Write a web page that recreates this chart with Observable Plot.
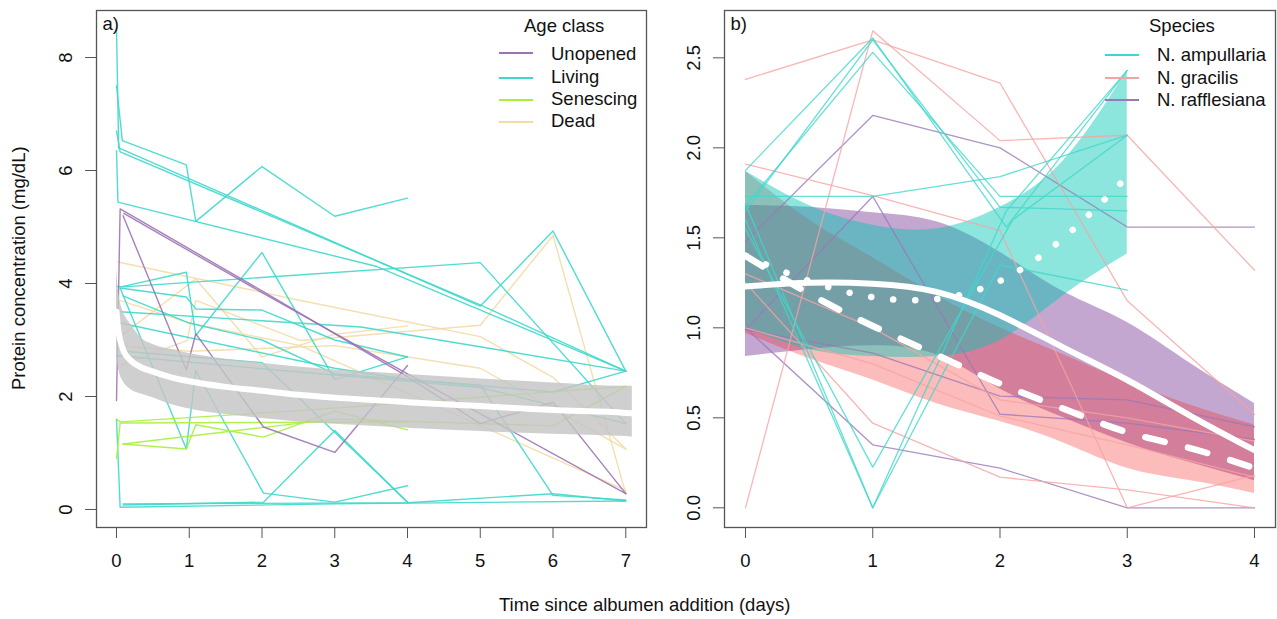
<!DOCTYPE html>
<html><head><meta charset="utf-8">
<script src="https://cdn.jsdelivr.net/npm/d3@7"></script>
<script src="https://cdn.jsdelivr.net/npm/@observablehq/plot@0.6"></script>
<style>
html,body{margin:0;padding:0;background:#fff;}
#fig{position:relative;width:1277px;height:619px;overflow:hidden;font-family:"Liberation Sans",Arial,sans-serif;color:#111;}
.abs{position:absolute;white-space:nowrap;font-size:18.5px;line-height:18.5px;}
.key{position:absolute;height:2px;}
.panel{position:absolute;top:0;}
</style></head><body><div id="fig"></div>
<script>
// ---------- Panel a data (time in days, protein mg/dL) ----------
const ageClasses = ["Unopened", "Living", "Senescing", "Dead"];
const ageColors = ["#9b73b4", "#3ed8cb", "#a8f03c", "#f2dca6"];

const unopenedLines = [
  [[0,1.93],[0.05,5.32],[2.0,3.87],[4.0,2.35],[5.0,1.52],[6.0,1.9],[7.0,0.28]],
  [[0.09,5.2],[0.96,2.47],[1.09,3.11],[2.02,1.46],[3.0,1.01],[4.0,2.55]],
  [[0.1,5.24],[2.0,3.84],[4.0,2.4],[7.0,0.28]]
];
const livingLines = [
  [[0,8.5],[0.03,6.4],[5.0,3.6],[6.0,4.93],[7.0,2.45]],
  [[0,7.5],[0.08,6.53],[0.96,6.1],[1.09,5.1],[2.0,6.07],[3.0,5.19],[4.0,5.51]],
  [[0,6.7],[0.05,6.33],[5.0,3.62],[7.0,2.45]],
  [[0,6.35],[0.02,5.44],[3.58,4.3],[7.0,2.45]],
  [[0,3.95],[0.09,3.94],[5.0,4.37],[7.0,1.52]],
  [[0.09,3.95],[0.96,4.2],[1.09,3.08],[2.0,4.55],[3.0,2.3],[4.0,2.7]],
  [[0.05,3.92],[0.96,3.76],[1.09,3.55],[2.0,3.53],[3.0,3.0],[4.0,2.7]],
  [[0.09,3.78],[1.0,3.3],[2.0,3.0],[3.0,2.4],[5.0,2.2],[6.0,0.25],[7.0,0.17]],
  [[0,1.6],[0.05,0.04],[3.0,0.1],[7.0,0.15]],
  [[0.09,0.08],[2.02,0.13],[3.0,1.4],[4.0,0.13]],
  [[0.09,0.1],[4.0,0.12],[6.0,0.28],[7.0,0.15]],
  [[0.05,3.92],[0.96,1.07],[1.09,2.46],[2.02,0.29],[3.0,0.13],[4.0,0.42]],
  [[0,2.72],[0.03,2.72],[2.8,2.4],[5.0,2.16],[7.0,1.52]],
  [[0.05,3.5],[3.36,3.23],[7.0,2.45]],
  [[0.05,3.3],[3.0,2.5],[4.0,2.3],[6.0,2.08],[7.0,2.45]],
  [[0.1,2.8],[2.0,2.6],[4.0,0.13]]
];
const senescingLines = [
  [[0,0.9],[0.05,1.53],[4.0,1.55]],
  [[0.09,1.16],[0.96,1.07],[1.09,1.5],[2.02,1.28],[3.0,1.74],[4.0,1.41]],
  [[0.09,1.16],[2.0,1.45],[3.0,1.6],[6.0,1.48],[7.0,2.18]],
  [[0,1.6],[0.05,1.55],[2.53,1.75],[7.0,2.18]]
];
const deadLines = [
  [[0.02,4.38],[2.53,3.7],[5.0,3.06],[6.0,2.34],[7.0,1.07]],
  [[0.05,2.55],[0.97,2.99],[1.09,3.7],[2.53,2.99],[5.0,3.26],[6.0,4.85],[7.0,0.28]],
  [[0.09,3.1],[1.09,4.08],[2.0,2.7],[3.0,3.1],[4.0,3.25]],
  [[0.05,3.7],[1.0,3.3],[2.53,2.9],[7.0,0.34]],
  [[0,2.9],[1.0,2.8],[3.0,2.9],[5.0,2.5],[7.0,1.07]]
];
// fitted curve and band (panel a)
const fitA_t   = [0, 0.02, 0.05, 0.1, 0.2, 0.35, 0.5, 0.75, 1, 1.5, 2, 2.5, 3, 4, 5, 6, 7, 7.09];
const fitA_mid = [3.50, 3.22, 3.00, 2.80, 2.63, 2.51, 2.44, 2.34, 2.27, 2.17, 2.10, 2.03, 1.98, 1.90, 1.83, 1.76, 1.71, 1.70];
const fitA_lo  = [2.75, 2.55, 2.38, 2.25, 2.12, 2.04, 1.98, 1.86, 1.78, 1.68, 1.61, 1.55, 1.51, 1.44, 1.38, 1.33, 1.29, 1.28];
const fitA_hi  = [4.28, 3.95, 3.68, 3.48, 3.27, 3.02, 2.92, 2.83, 2.76, 2.66, 2.59, 2.52, 2.47, 2.39, 2.31, 2.24, 2.18, 2.18];
const ticksAx = [0,1,2,3,4,5,6,7];
const ticksAy = [0,2,4,6,8];

// ---------- Panel b data ----------
const species = ["N. ampullaria", "N. gracilis", "N. rafflesiana"];
const speciesLineColors = ["#3ed8cb", "#f7a3a3", "#9a78b6"];
const ampullariaLines = [
  [[0,1.73],[1,1.73],[2,1.84],[3,2.07]],
  [[0,1.875],[1,2.61],[2.05,1.56],[3,2.43]],
  [[0,1.68],[1,2.53],[2,1.73],[3,1.73]],
  [[0,1.65],[1,2.6],[2,1.67],[3,1.65]],
  [[0,1.69],[1,0.0],[2,1.35],[3,1.21]],
  [[0,1.55],[1,0.226],[2.1,1.6],[3,2.07]],
  [[0,1.6],[1,0.0],[2.05,1.65],[3,2.43]]
];
const gracilisLines = [
  [[0,2.38],[1,2.6],[2,2.36],[3,1.15],[4,0.52]],
  [[0,1.91],[1,1.735],[2,1.54],[3,0.0],[4,0.18]],
  [[0,0.0],[1,2.65],[2,2.04],[3,2.07],[4,1.32]],
  [[0,1.25],[1,0.47],[2,0.17],[3,0.1],[4,0.0]],
  [[0,1.0],[1,0.8],[2,0.51],[3,0.35],[4,0.17]],
  [[0,1.3],[1,1.0],[2,0.6],[3,0.5],[4,0.37]]
];
const rafflesianaLines = [
  [[0,1.48],[1,2.18],[2,2.0],[3,1.56],[4,1.56]],
  [[0,0.99],[1,1.73],[2,0.52],[3,0.47],[4,0.38]],
  [[0,1.0],[1,0.35],[2,0.22],[3,0.0],[4,0.0]],
  [[0,0.99],[1,0.86],[2,0.62],[3,0.6],[4,0.45]]
];
// fitted curves and bands (panel b)
const ampT   = [0, 0.5, 1.0, 1.5, 2.0, 2.5, 3.0];
const ampMid = [1.40, 1.26, 1.17, 1.16, 1.26, 1.50, 1.84];
const ampLo  = [1.00, 0.88, 0.84, 0.84, 0.93, 1.18, 1.41];
const ampHi  = [1.87, 1.68, 1.57, 1.55, 1.67, 1.93, 2.43];
const graT   = [0, 0.5, 1.0, 1.5, 2.0, 2.5, 3.0, 3.5, 4.0];
const graMid = [1.40, 1.19, 1.01, 0.85, 0.69, 0.55, 0.42, 0.33, 0.22];
const graLo  = [0.97, 0.83, 0.71, 0.58, 0.48, 0.36, 0.22, 0.15, 0.08];
const graHi  = [1.87, 1.60, 1.39, 1.18, 1.00, 0.85, 0.70, 0.57, 0.46];
const rafT   = [0, 0.5, 1.0, 1.5, 2.0, 2.5, 3.0, 3.5, 4.0];
const rafMid = [1.23, 1.25, 1.245, 1.20, 1.07, 0.89, 0.71, 0.51, 0.32];
const rafLo  = [0.84, 0.88, 0.90, 0.85, 0.66, 0.50, 0.36, 0.25, 0.15];
const rafHi  = [1.68, 1.67, 1.64, 1.59, 1.42, 1.20, 1.03, 0.80, 0.58];
const ticksBx = [0,1,2,3,4];
const ticksBy = [0,0.5,1,1.5,2,2.5];

// ---------- helpers ----------
const flat = (lines, key) => lines.flatMap((pts, i) => pts.map(([t, v]) => ({id: key + i, t, v})));
const band = (T, mid, lo, hi) => T.map((t, i) => ({t, mid: mid[i], lo: lo[i], hi: hi[i]}));
const FONT = '"Liberation Sans", Arial, sans-serif';
const fig = document.getElementById("fig");
const axisStyle = {stroke: "#555", tickSize: 11, label: null};
const intFmt = d3.format("d");

// ---------- Panel a ----------
const lineA = (lines, key, color) => Plot.line(flat(lines, key), {x: "t", y: "v", z: "id", stroke: color, strokeWidth: 1.4, strokeOpacity: 0.9});
const fitA = band(fitA_t, fitA_mid, fitA_lo, fitA_hi);
const plotA = Plot.plot({
  width: 660, height: 580,
  marginLeft: 96, marginRight: 14, marginTop: 10, marginBottom: 53,
  x: {domain: [-0.275, 7.285]},
  y: {domain: [-0.3186, 8.832]},
  style: {fontFamily: FONT, fontSize: "18.5px", color: "#111", background: "transparent"},
  marks: [
    lineA(deadLines, "d", ageColors[3]),
    lineA(livingLines, "l", ageColors[1]),
    lineA(senescingLines, "s", ageColors[2]),
    lineA(unopenedLines, "u", ageColors[0]),
    Plot.areaY(fitA, {x: "t", y1: "lo", y2: "hi", fill: "#c4c4c4", fillOpacity: 0.82, curve: "monotone-x"}),
    Plot.line(fitA, {x: "t", y: "mid", stroke: "white", strokeWidth: 6, curve: "monotone-x"}),
    Plot.frame({stroke: "#555", strokeWidth: 1.3}),
    Plot.axisX({...axisStyle, ticks: ticksAx, tickFormat: intFmt, tickPadding: 15}),
    Plot.axisY({...axisStyle, ticks: ticksAy, tickFormat: intFmt, tickRotate: -90, tickPadding: 14}),
    Plot.text(["a)"], {frameAnchor: "top-left", dx: 6, dy: 6, lineAnchor: "top", text: d => d, fontSize: 18.5})
  ]
});
plotA.classList.add("panel");
plotA.style.left = "0px";
fig.appendChild(plotA);

// ---------- Panel b ----------
const lineB = (lines, key, color, op) => Plot.line(flat(lines, key), {x: "t", y: "v", z: "id", stroke: color, strokeWidth: 1.3, strokeOpacity: op});
const bAmp = band(ampT, ampMid, ampLo, ampHi);
const bGra = band(graT, graMid, graLo, graHi);
const bRaf = band(rafT, rafMid, rafLo, rafHi);
const plotB = Plot.plot({
  width: 617, height: 580,
  marginLeft: 64, marginRight: 2, marginTop: 10, marginBottom: 53,
  x: {domain: [-0.165, 4.165]},
  y: {domain: [-0.1094, 2.763]},
  style: {fontFamily: FONT, fontSize: "18.5px", color: "#111", background: "transparent"},
  marks: [
    Plot.areaY(bRaf, {x: "t", y1: "lo", y2: "hi", fill: "#874fa1", fillOpacity: 0.5, curve: "natural"}),
    Plot.areaY(bGra, {x: "t", y1: "lo", y2: "hi", fill: "#f82020", fillOpacity: 0.3, curve: "natural"}),
    Plot.areaY(bAmp, {x: "t", y1: "lo", y2: "hi", fill: "#00c8b4", fillOpacity: 0.45, curve: "natural"}),
    lineB(rafflesianaLines, "r", speciesLineColors[2], 0.8),
    lineB(gracilisLines, "g", speciesLineColors[1], 0.8),
    lineB(ampullariaLines, "a", speciesLineColors[0], 0.8),
    Plot.line(bRaf, {x: "t", y: "mid", stroke: "white", strokeWidth: 6, curve: "natural"}),
    Plot.line(bGra, {x: "t", y: "mid", stroke: "white", strokeWidth: 6.5, strokeDasharray: "20,24", strokeLinecap: "round", curve: "natural"}),
    Plot.line(bAmp, {x: "t", y: "mid", stroke: "white", strokeWidth: 6.5, strokeDasharray: "0.1,22", strokeLinecap: "round", curve: "natural"}),
    Plot.frame({stroke: "#555", strokeWidth: 1.3}),
    Plot.axisX({...axisStyle, ticks: ticksBx, tickFormat: intFmt, tickPadding: 15}),
    Plot.axisY({...axisStyle, ticks: ticksBy, tickFormat: d3.format(".1f"), tickRotate: -90, tickPadding: 14}),
    Plot.text(["b)"], {frameAnchor: "top-left", dx: 6, dy: 6, lineAnchor: "top", text: d => d, fontSize: 18.5})
  ]
});
plotB.classList.add("panel");
plotB.style.left = "660px";
fig.appendChild(plotB);

// ---------- texts & legends ----------
function place(text, left, baseline) {
  const d = document.createElement("div");
  d.className = "abs";
  d.textContent = text;
  d.style.left = left + "px";
  d.style.top = (baseline - 15.66) + "px";
  fig.appendChild(d);
  return d;
}
function addKey(color, x1, x2, y) {
  const k = document.createElement("div");
  k.className = "key";
  k.style.background = color;
  k.style.left = x1 + "px";
  k.style.width = (x2 - x1) + "px";
  k.style.top = (y - 1) + "px";
  fig.appendChild(k);
}
place("Age class", 524, 32.6);
const ageBase = [60.9, 83.9, 105.9, 127.5];
const ageKeyY = [53.3, 77.7, 99.7, 122];
ageClasses.forEach((c, i) => { addKey(ageColors[i], 499, 533, ageKeyY[i]); place(c, 551, ageBase[i]); });
place("Species", 1149, 32.6);
const spBase = [61.5, 85, 106.5];
const spKeyY = [55, 77.7, 100];
species.forEach((s, i) => { addKey(speciesLineColors[i], 1105, 1139, spKeyY[i]); place(s, 1157, spBase[i]); });

place("Time since albumen addition (days)", 499, 611.2);
const yl = document.createElement("div");
yl.className = "abs";
yl.textContent = "Protein concentration (mg/dL)";
yl.style.width = "400px";
yl.style.textAlign = "center";
yl.style.left = (19.1 - 200) + "px";
yl.style.top = (268.5 - 9.25) + "px";
yl.style.transform = "rotate(-90deg)";
fig.appendChild(yl);
</script></body></html>
